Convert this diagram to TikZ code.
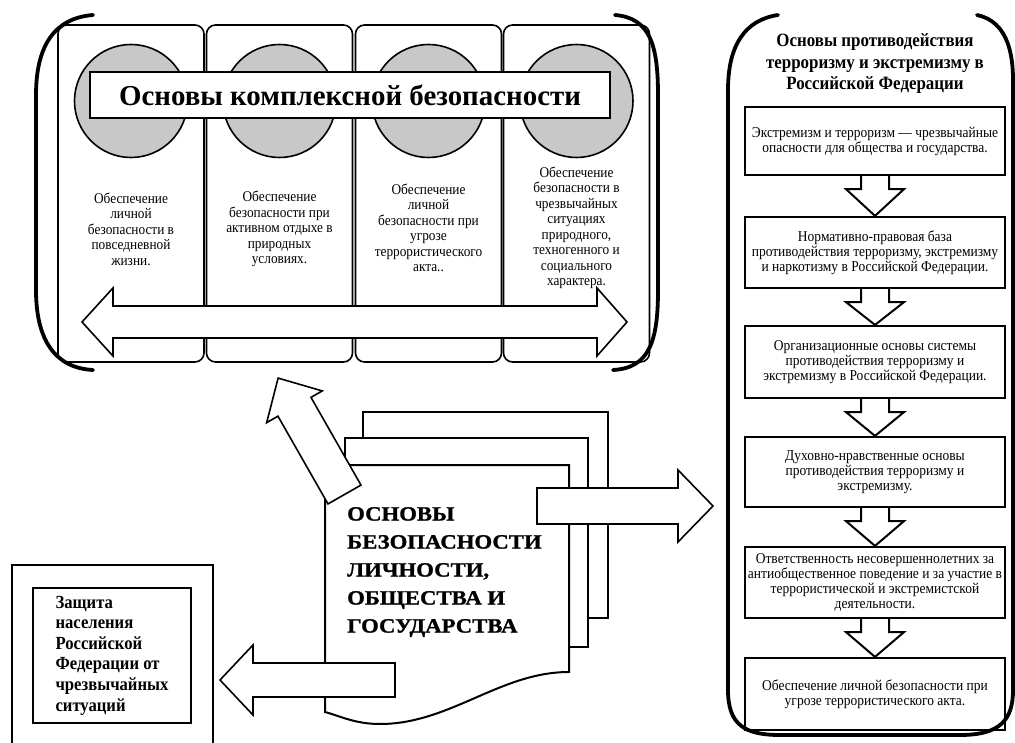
\documentclass[tikz,border=0pt]{standalone}
\usepackage{fontspec}
\setmainfont{Liberation Serif}
\newfontfamily\condensed[FakeStretch=0.9]{Liberation Serif}
\newfontfamily\widebold[FakeStretch=1.12,FakeBold=1.2]{Liberation Serif Bold}
\usetikzlibrary{positioning,calc}
\definecolor{discgray}{RGB}{200,200,200}
\tikzset{
  pics/fatarrow/.style args={#1/#2/#3/#4}{code={
    \draw[fat] (0,-#2) -- (#1-#4,-#2) -- (#1-#4,-#3) -- (#1,0) -- (#1-#4,#3) -- (#1-#4,#2) -- (0,#2) -- cycle;
  }}
}
\begin{document}
\begin{tikzpicture}[x=1pt,y=-1pt,
  column/.style={draw,line width=1.6pt,rounded corners=9pt,minimum width=146pt,minimum height=337pt},
  disc/.style={circle,draw,line width=1.6pt,fill=discgray,minimum size=113pt},
  titlebox/.style={draw,fill=white,line width=2pt,minimum width=520pt,minimum height=46pt,font=\fontsize{28.9}{30}\selectfont\bfseries},
  coltext/.style={align=center,font=\condensed\fontsize{14.8}{15.5}\selectfont},
  stepbox/.style={draw,line width=2.2pt,minimum width=260pt,align=center,inner sep=2pt,font=\condensed\fontsize{15}{15}\selectfont},
  sheet/.style={draw,fill=white,line width=2pt},
  fat/.style={draw,fill=white,line width=1.6pt,line join=miter},
  bracket/.style={line width=3.8pt,line cap=round}]
\useasboundingbox (0,0) rectangle (1015,743);

% block of complex safety
\foreach \i/\x in {1/131,2/279.5,3/428.5,4/576.5}{
  \node[column] (c\i) at (\x,193.5) {};
  \node[disc] (d\i) at (\x,101) {};
}
\node[titlebox] (title) at (350,95) {Основы комплексной безопасности};
\node[coltext] (t1) at (c1 |- 0,229) {Обеспечение\\личной\\безопасности в\\повседневной\\жизни.};
\node[coltext] (t2) at (c2 |- 0,229) {Обеспечение\\безопасности при\\активном отдыхе в\\природных\\условиях.};
\node[coltext] (t3) at (c3 |- 0,228) {Обеспечение\\личной\\безопасности при\\угрозе\\террористического\\акта..};
\node[coltext] (t4) at (c4 |- 0,228) {Обеспечение\\безопасности в\\чрезвычайных\\ситуациях\\природного,\\техногенного и\\социального\\характера.};
\draw[fat] (82,322) -- (113,288) -- (113,306) -- (597,306) -- (597,288) -- (627,322)
  -- (597,356) -- (597,338) -- (113,338) -- (113,356) -- cycle;
\draw[bracket] (93,15) .. controls (55,18) and (36,45) .. (36,95) -- (36,290)
  .. controls (36,340) and (55,368) .. (93,370);
\draw[bracket] (615,15) .. controls (650,18) and (658,45) .. (658,95) -- (658,290)
  .. controls (658,340) and (650,368) .. (613,370);

% counteraction column
\draw[bracket] (778,15) .. controls (745,20) and (728,45) .. (728,90) -- (728,690)
  .. controls (728,725) and (745,735) .. (780,735) -- (960,735)
  .. controls (1000,735) and (1013,720) .. (1013,690) -- (1013,80)
  .. controls (1013,40) and (1000,20) .. (977,15);
\node[align=center,font=\condensed\fontsize{18.8}{21.5}\selectfont\bfseries] (rtitle) at (875,64)
  {Основы противодействия\\терроризму и экстремизму в\\Российской Федерации};
\node[stepbox,minimum height=68pt] (b1) at (875,141) {Экстремизм и терроризм — чрезвычайные\\опасности для общества и государства.};
\node[stepbox,minimum height=71pt] (b2) at (875,252.5) {Нормативно-правовая база\\противодействия терроризму, экстремизму\\и наркотизму в Российской Федерации.};
\node[stepbox,minimum height=72pt] (b3) at (875,362) {Организационные основы системы\\противодействия терроризму и\\экстремизму в Российской Федерации.};
\node[stepbox,minimum height=70pt] (b4) at (875,472) {Духовно-нравственные основы\\противодействия терроризму и\\экстремизму.};
\node[stepbox,minimum height=71pt] (b5) at (875,582.5) {Ответственность несовершеннолетних за\\антиобщественное поведение и за участие в\\террористической и экстремистской\\деятельности.};
\node[stepbox,minimum height=72pt] (b6) at (875,694) {Обеспечение личной безопасности при\\угрозе террористического акта.};
\foreach \a/\b in {b1/b2,b2/b3,b3/b4,b4/b5,b5/b6}
  \draw[fat,fill=none,line width=2pt] ($(\a.south)+(-14,0)$) -- ++(0,13) -- ++(-15,0) -- (\b.north)
    -- ($(\a.south)+(29,13)$) -- ++(-15,0) -- ++(0,-13);

% stack of sheets
\draw[sheet] (363,412) rectangle (608,618);
\draw[sheet] (345,438) rectangle (588,647);
\draw[sheet] (325,465) -- (569,465) -- (569,672) .. controls (500,672) and (450,724) .. (380,724)
  .. controls (355,724) and (340,716) .. (325,712) -- cycle;
\node[anchor=west,align=left,inner sep=0pt,font=\widebold\fontsize{20.3}{28}\selectfont] (osnovy) at (347,572)
  {ОСНОВЫ\\БЕЗОПАСНОСТИ\\ЛИЧНОСТИ,\\ОБЩЕСТВА И\\ГОСУДАРСТВА};
\pic at (537,506) {fatarrow=176/18/36/35};
\pic[rotate=119.7] at (344.5,494.5) {fatarrow=134/19/32/33};
\pic[rotate=180] at (395,680) {fatarrow=175/17/35/33};

% protection box
\draw[line width=2pt] (12,745) -- (12,565) -- (213,565) -- (213,745);
\node[draw,line width=2.2pt,minimum width=158pt,minimum height=135pt,align=left,
  font=\condensed\fontsize{18.5}{20.6}\selectfont\bfseries] (zashita) at (112,655.5)
  {Защита\\населения\\Российской\\Федерации от\\чрезвычайных\\ситуаций};
\end{tikzpicture}
\end{document}
